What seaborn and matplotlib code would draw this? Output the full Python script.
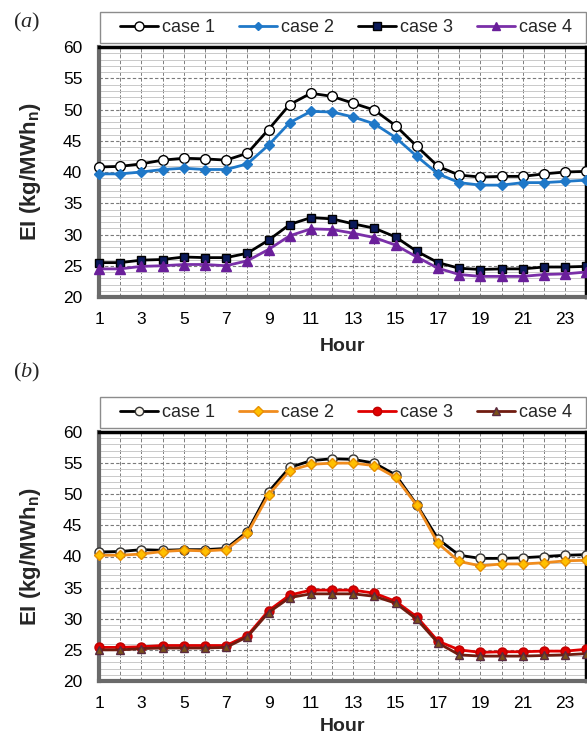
import matplotlib
matplotlib.use("Agg")
import matplotlib.pyplot as plt
import seaborn as sns
import numpy as np
from matplotlib.ticker import MultipleLocator
from matplotlib.lines import Line2D
from matplotlib.patches import Rectangle

hours = list(range(1, 25))

a_case1 = [40.8, 40.9, 41.3, 41.9, 42.2, 42.1, 41.9, 43.0, 46.8, 50.8, 52.6, 52.1,
           51.0, 49.9, 47.4, 44.1, 40.9, 39.5, 39.2, 39.3, 39.3, 39.7, 40.0, 40.1]
a_case2 = [39.7, 39.7, 40.0, 40.4, 40.6, 40.4, 40.4, 41.3, 44.3, 47.9, 49.7, 49.6,
           48.8, 47.7, 45.5, 42.5, 39.7, 38.3, 37.9, 37.9, 38.3, 38.3, 38.5, 38.7]
a_case3 = [25.5, 25.5, 25.9, 26.0, 26.4, 26.3, 26.3, 27.0, 29.1, 31.6, 32.7, 32.5,
           31.7, 31.0, 29.6, 27.3, 25.5, 24.6, 24.4, 24.5, 24.5, 24.8, 24.8, 24.9]
a_case4 = [24.5, 24.5, 24.9, 25.0, 25.2, 25.2, 25.0, 25.8, 27.6, 29.8, 30.9, 30.8,
           30.2, 29.5, 28.3, 26.4, 24.6, 23.6, 23.3, 23.3, 23.3, 23.6, 23.7, 24.0]

b_case1 = [40.7, 40.8, 41.1, 41.0, 41.1, 41.1, 41.3, 44.0, 50.4, 54.3, 55.4, 55.7,
           55.6, 55.0, 53.1, 48.3, 42.8, 40.2, 39.7, 39.7, 39.8, 40.0, 40.2, 40.3]
b_case2 = [40.2, 40.2, 40.4, 40.8, 41.0, 40.9, 41.1, 43.7, 49.9, 53.8, 54.8, 55.0,
           55.0, 54.6, 52.7, 48.2, 42.1, 39.2, 38.5, 38.8, 38.8, 39.0, 39.3, 39.4]
b_case3 = [25.4, 25.4, 25.5, 25.7, 25.7, 25.7, 25.7, 27.3, 31.3, 33.8, 34.6, 34.6,
           34.6, 34.1, 32.8, 30.3, 26.4, 25.0, 24.6, 24.7, 24.7, 24.8, 24.8, 25.1]
b_case4 = [25.0, 25.0, 25.2, 25.3, 25.3, 25.3, 25.4, 27.1, 31.0, 33.4, 34.0, 34.0,
           34.0, 33.6, 32.5, 29.9, 26.1, 24.2, 24.0, 24.0, 24.0, 24.1, 24.2, 24.4]

case_labels = ["case 1", "case 2", "case 3", "case 4"]
x_ticks = list(range(1, 24, 2))
y_ticks = [20, 25, 30, 35, 40, 45, 50, 55, 60]

sns.set_theme(style="white")
plt.rcParams["font.family"] = ["Liberation Sans", "DejaVu Sans"]
plt.rcParams["mathtext.fontset"] = "custom"
plt.rcParams["mathtext.rm"] = "Liberation Sans"
plt.rcParams["mathtext.bf"] = "Liberation Sans:bold"
plt.rcParams["mathtext.it"] = "Liberation Serif:italic"

fig = plt.figure(figsize=(5.87, 7.37), dpi=100)

styles_a = [
    dict(color="black", marker="o", mfc="white", mec="black", ms=7),
    dict(color="#1f78c8", marker="D", mfc="#1f78c8", mec="#1f78c8", ms=5),
    dict(color="black", marker="s", mfc="#0b1a5a", mec="black", ms=6),
    dict(color="#7a2fa8", marker="^", mfc="#6a1f9a", mec="#6a1f9a", ms=6.5),
]
styles_b = [
    dict(color="black", marker="o", mfc="#fbf6ec", mec="#333333", ms=6.5),
    dict(color="#f08c1e", marker="D", mfc="#ffc000", mec="#e89000", ms=5.5),
    dict(color="#e00000", marker="o", mfc="#e00000", mec="#c00000", ms=6.5),
    dict(color="#701c10", marker="^", mfc="#7a5218", mec="#5a2a40", ms=6),
]


def draw_panel(ax, series, styles, box_top_px, xpad):
    for vals, st, lab in zip(series, styles, case_labels):
        sns.lineplot(x=hours, y=vals, ax=ax, color=st["color"], marker=st["marker"],
                     markerfacecolor=st["mfc"], markeredgecolor=st["mec"],
                     markersize=st["ms"], markeredgewidth=1.0, linewidth=2.0,
                     label=lab, legend=False, clip_on=False, zorder=3)
    ax.set_xlim(1, 24)
    ax.set_ylim(20, 60)
    ax.set_xticks(x_ticks)
    ax.xaxis.set_minor_locator(MultipleLocator(1))
    ax.set_yticks(y_ticks)
    ax.yaxis.set_minor_locator(MultipleLocator(1))
    ax.grid(False)
    ax.grid(which="minor", axis="y", color="#c9c9c9", linewidth=0.7, linestyle="-")
    ax.grid(which="major", axis="y", color="#7a7a7a", linewidth=0.8, linestyle=(0, (3, 2)))
    ax.grid(which="both", axis="x", color="#7f7f7f", linewidth=0.7, linestyle=(0, (4, 2)))
    ax.set_axisbelow(True)
    ax.tick_params(axis="both", which="both", length=0, labelsize=12.5, colors="black")
    ax.tick_params(axis="y", pad=12)
    ax.tick_params(axis="x", pad=11)
    for s in ["top", "right"]:
        ax.spines[s].set_color("black")
        ax.spines[s].set_linewidth(2.5)
    for s in ["left", "bottom"]:
        ax.spines[s].set_color("#6a6a6a")
        ax.spines[s].set_linewidth(3.0)
    ax.set_xlabel("Hour", fontsize=14, fontweight="bold", labelpad=xpad)
    ax.set_ylabel(r"EI (kg/MWh$_\mathbf{n}$)", fontsize=16, fontweight="bold")

    # legend frame spanning the plot width
    box_h = 31
    fig.patches.append(Rectangle((100 / 587, 1 - (box_top_px + box_h) / 737), 486 / 587,
                                 box_h / 737, transform=fig.transFigure, facecolor="white",
                                 edgecolor="#8c8c8c", linewidth=1.0, zorder=0))
    handles = [Line2D([], [], color=st["color"], marker=st["marker"], markerfacecolor=st["mfc"],
                      markeredgecolor=st["mec"], markersize=st["ms"] - 0.5, linewidth=2.0)
               for st in styles]
    fig.legend(handles, case_labels, loc="center left",
               bbox_to_anchor=(120 / 587, 1 - (box_top_px + box_h / 2) / 737, 452 / 587, 0),
               mode="expand", ncol=4, fontsize=13, frameon=False,
               borderaxespad=0, borderpad=0.0, handlelength=2.1, handletextpad=0.2,
               columnspacing=1.0)


L = 99 / 587
W = 586.4 / 587 - L
ax_a = fig.add_axes([L, 1 - 297 / 737, W, (297 - 47) / 737])
ax_b = fig.add_axes([L, 1 - 681 / 737, W, (681 - 432) / 737])

draw_panel(ax_a, [a_case1, a_case2, a_case3, a_case4], styles_a, 12, 8)
draw_panel(ax_b, [b_case1, b_case2, b_case3, b_case4], styles_b, 397, 5)

for ax in (ax_a, ax_b):
    ax.yaxis.set_label_coords(-0.115, 0.5)

fig.text(13 / 587, 1 - 22 / 737, r"($a$)", fontsize=16, family="Liberation Serif",
         va="center", ha="left")
fig.text(13 / 587, 1 - 372 / 737, r"($b$)", fontsize=16, family="Liberation Serif",
         va="center", ha="left")

fig.savefig("out.png", dpi=100, facecolor="white")
